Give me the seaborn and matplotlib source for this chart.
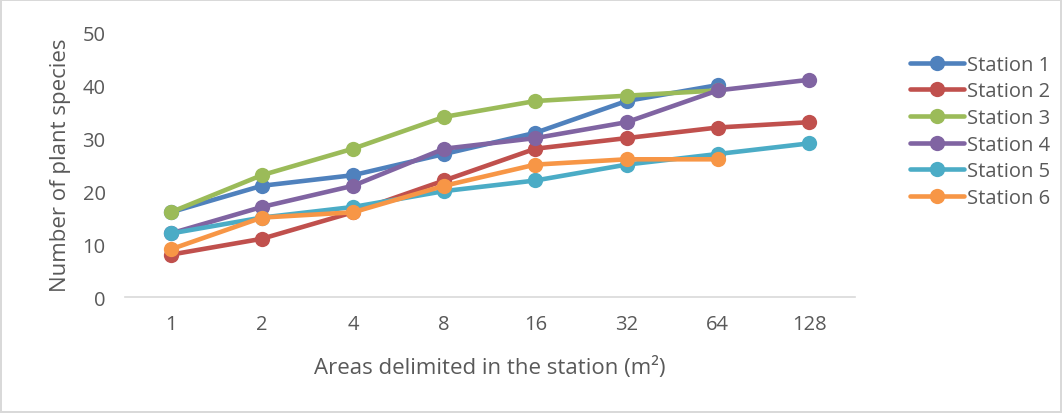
import pandas as pd
import numpy as np
import matplotlib.pyplot as plt
import seaborn as sns

areas = ['1', '2', '4', '8', '16', '32', '64', '128']
station1 = [16, 21, 23, 27, 31, 37, 40]
station2 = [8, 11, 16, 22, 28, 30, 32, 33]
station3 = [16, 23, 28, 34, 37, 38, 39]
station4 = [12, 17, 21, 28, 30, 33, 39, 41]
station5 = [12, 15, 17, 20, 22, 25, 27, 29]
station6 = [9, 15, 16, 21, 25, 26, 26]

names = ['Station 1', 'Station 2', 'Station 3', 'Station 4', 'Station 5', 'Station 6']
series = [station1, station2, station3, station4, station5, station6]
colors = ['#4F81BD', '#C0504D', '#9BBB59', '#8064A2', '#4BACC6', '#F79646']

rows = []
for name, vals in zip(names, series):
    for a, v in zip(areas, vals):
        rows.append({'Area': a, 'Species': v, 'Station': name})
df = pd.DataFrame(rows)

sns.set_style('white')
plt.rcParams['font.family'] = ['Open Sans', 'DejaVu Sans']
grey = '#595959'

fig = plt.figure(figsize=(10.62, 4.14), dpi=100)
fig.patch.set_edgecolor('#D9D9D9')
fig.patch.set_linewidth(1.5)
ax = fig.add_axes([0.1177, 0.280, 0.687, 0.640])

sns.lineplot(data=df, x='Area', y='Species', hue='Station', palette=colors,
             marker='o', markersize=11, markeredgewidth=0, linewidth=3.3,
             sort=False, ax=ax)

ax.set_xlim(-0.5, 7.5)
ax.set_ylim(0, 50)
ax.set_yticks(range(0, 51, 10))
for s in ['top', 'right', 'left']:
    ax.spines[s].set_visible(False)
ax.spines['bottom'].set_color('#D9D9D9')
ax.spines['bottom'].set_linewidth(1.2)
ax.tick_params(axis='both', length=0, labelsize=14.5, labelcolor=grey)
ax.tick_params(axis='y', pad=14)
ax.tick_params(axis='x', pad=12)
ax.set_xlabel('Areas delimited in the station (m²)', fontsize=16, color=grey, labelpad=16)
ax.set_ylabel('Number of plant species', fontsize=16, color=grey, labelpad=8)

leg = ax.legend(loc='upper left', bbox_to_anchor=(1.065, 0.945), frameon=False,
                fontsize=14.5, labelspacing=0.33, handlelength=2.7,
                handletextpad=0.15, borderaxespad=0)
for t in leg.get_texts():
    t.set_color(grey)

fig.savefig('out.png', dpi=100)
